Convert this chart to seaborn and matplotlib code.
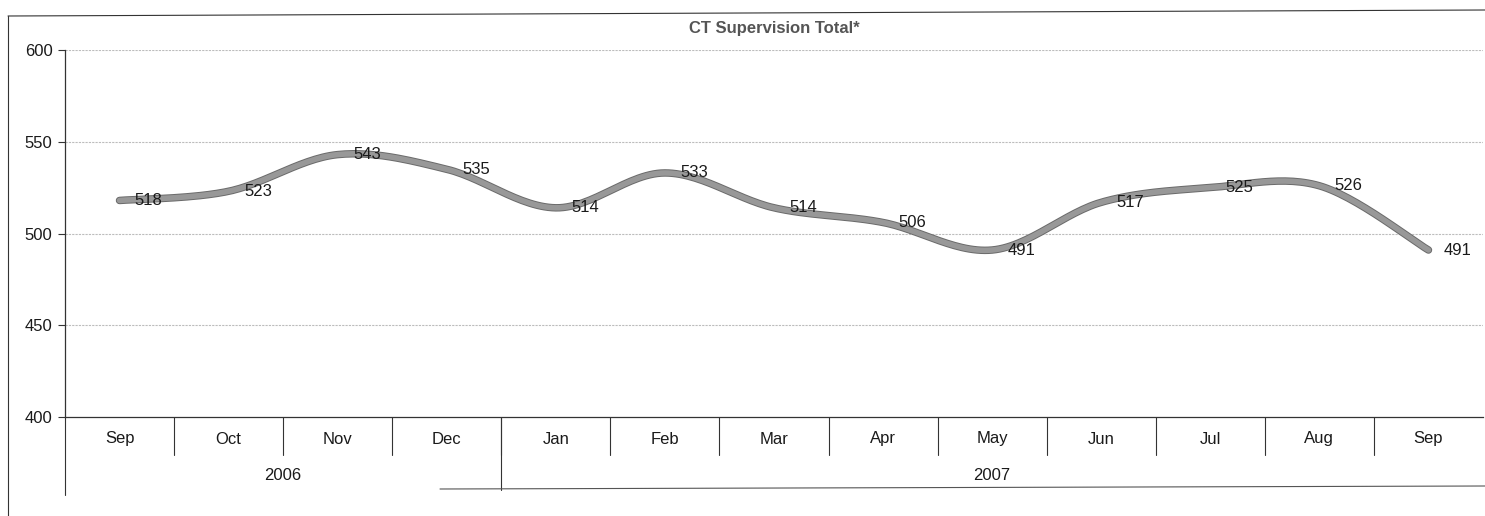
import numpy as np
import pandas as pd
import matplotlib
matplotlib.use("Agg")
import matplotlib.pyplot as plt
import matplotlib.patheffects as pe
import matplotlib.transforms as mtransforms
import seaborn as sns

# ---- data ----
months = ["Sep", "Oct", "Nov", "Dec", "Jan", "Feb", "Mar", "Apr", "May", "Jun", "Jul", "Aug", "Sep"]
years = ["2006", "2007"]
year_spans = [(0, 3), (4, 12)]  # index ranges of months per year
values = [518, 523, 543, 535, 514, 533, 514, 506, 491, 517, 525, 526, 491]
yticks = [400, 450, 500, 550, 600]
title = "CT Supervision Total*"

sns.set_theme(style="white")
plt.rcParams["font.family"] = ["Liberation Sans", "DejaVu Sans"]

fig = plt.figure(figsize=(14.85, 5.16), dpi=100)
ax = fig.add_axes([65 / 1485, 1 - 417 / 516, (1483 - 65) / 1485, (417 - 50) / 516])

# smooth curve (Catmull-Rom through the data points, like Excel's smoothed line)
x = np.arange(len(values), dtype=float)
y = np.array(values, dtype=float)
px = np.concatenate([[x[0]], x, [x[-1]]])
py = np.concatenate([[y[0]], y, [y[-1]]])
cx, cy = [], []
t = np.linspace(0, 1, 30)
for i in range(1, len(px) - 2):
    p0, p1, p2, p3 = (px[i - 1], py[i - 1]), (px[i], py[i]), (px[i + 1], py[i + 1]), (px[i + 2], py[i + 2])
    for P, out in ((0, cx), (1, cy)):
        a0, a1, a2, a3 = p0[P], p1[P], p2[P], p3[P]
        seg = 0.5 * ((2 * a1) + (-a0 + a2) * t + (2 * a0 - 5 * a1 + 4 * a2 - a3) * t ** 2
                     + (-a0 + 3 * a1 - 3 * a2 + a3) * t ** 3)
        out.extend(seg if i == len(px) - 3 else seg[:-1])
curve = pd.DataFrame({"x": cx, "y": cy})

sns.lineplot(data=curve, x="x", y="y", sort=False, ax=ax, color="#989898", lw=4.0,
             solid_capstyle="round",
             path_effects=[pe.Stroke(linewidth=5.4, foreground="#6a6a6a"), pe.Normal()])

ax.set_xlim(-0.5, len(months) - 0.5)
ax.set_ylim(400, 600)
ax.set_yticks(yticks)
ax.set_yticklabels([str(v) for v in yticks], fontsize=12, color="#1a1a1a")
ax.tick_params(axis="y", length=5, width=0.8, color="#333", left=True, pad=4)
ax.set_xticks([])
ax.set_xlabel("")
ax.set_ylabel("")
for s in ["top", "right"]:
    ax.spines[s].set_visible(False)
ax.spines["left"].set_color("#333")
ax.spines["bottom"].set_color("#333")
ax.spines["left"].set_linewidth(0.9)
ax.spines["bottom"].set_linewidth(0.9)
for v in yticks[1:]:
    ax.axhline(v, color="#bdbdbd", lw=0.8, ls=(0, (2, 1)), zorder=0)

# data labels
for xi, v in enumerate(values):
    ax.annotate(str(v), (xi, v), xytext=(11, 0), textcoords="offset points",
                ha="left", va="center", fontsize=12, color="#1a1a1a")

# category axis: months and years
trans = mtransforms.blended_transform_factory(ax.transData, ax.transAxes)
px_h = (417 - 50)  # axes height in pixels
def ay(pix):
    return (417 - pix) / px_h

for i, m in enumerate(months):
    ax.text(i, ay(439), m, transform=trans, ha="center", va="center", fontsize=12, color="#1a1a1a")
for i in range(1, len(months)):
    ax.plot([i - 0.5, i - 0.5], [0, ay(455)], transform=trans, color="#333", lw=0.8, clip_on=False)
for (a, b), yr in zip(year_spans, years):
    ax.text((a + b) / 2, ay(476), yr, transform=trans, ha="center", va="center", fontsize=12, color="#1a1a1a")
ax.plot([3.5, 3.5], [0, ay(490)], transform=trans, color="#333", lw=0.8, clip_on=False)
ax.plot([-0.5, -0.5], [0, ay(495)], transform=trans, color="#333", lw=0.8, clip_on=False)

ax.set_title(title, fontsize=12, fontweight="bold", color="#555", pad=12, loc="center")

# chart area border
fig.add_artist(plt.Line2D([8 / 1485, 1], [1 - 16 / 516, 1 - 10 / 516], color="#333", lw=0.8))
fig.add_artist(plt.Line2D([8 / 1485, 8 / 1485], [1 - 16 / 516, 0], color="#333", lw=0.8))
fig.add_artist(plt.Line2D([440 / 1485, 1], [1 - 489 / 516, 1 - 486 / 516], color="#555", lw=0.8))

fig.savefig("out.png", dpi=100)
